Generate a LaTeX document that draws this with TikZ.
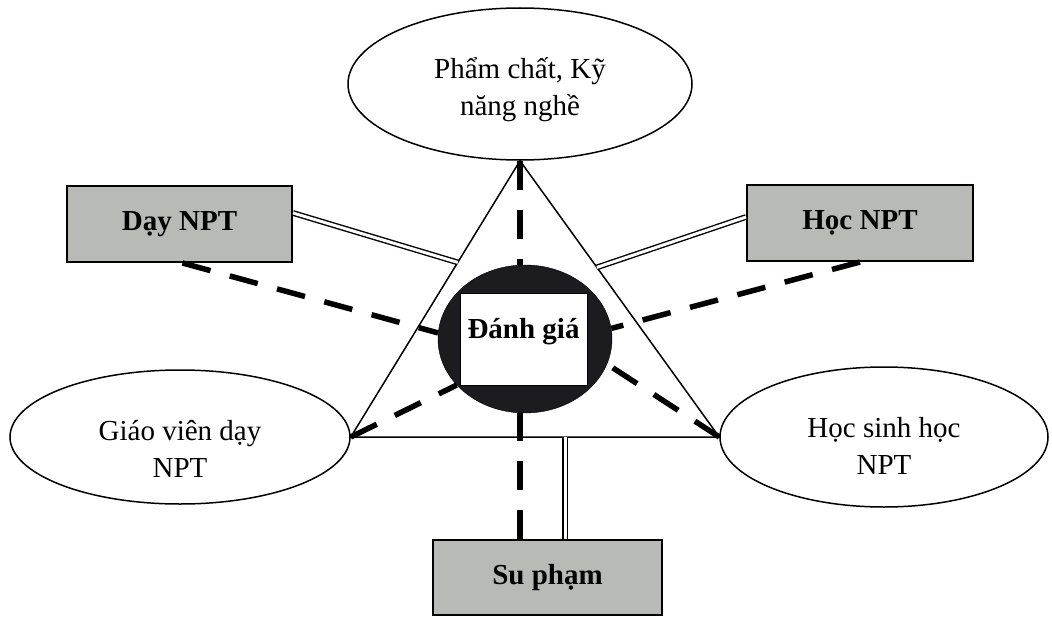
\documentclass[tikz,border=0pt]{standalone}
\usepackage{fontspec}
\setmainfont{Liberation Serif}
\usetikzlibrary{shapes.geometric,calc}
\definecolor{boxgray}{RGB}{184,186,182}
\definecolor{darkfill}{RGB}{28,28,32}
\begin{document}
\begin{tikzpicture}[x=1pt,y=-1pt,
  txt/.style={font=\fontsize{29}{37}\selectfont, align=center},
  oval/.style={ellipse, draw, line width=1.5pt, inner sep=0pt},
  gbox/.style={rectangle, draw, line width=2pt, fill=boxgray, inner sep=0pt, txt, font=\fontsize{29}{37}\selectfont\bfseries},
  thin/.style={line width=1.5pt},
  dashline/.style={line width=5.5pt, dash pattern=on 29pt off 20pt},
  dbl/.style={double, line width=1.4pt, double distance=3pt}
]
\useasboundingbox (0,0) rectangle (1052,618);

% ovals
\node[oval, minimum width=344, minimum height=152,
  label={[txt, yshift=-6pt]center:Phẩm chất, Kỹ\\năng nghề}] (top) at (520,84) {};
\node[oval, minimum width=340, minimum height=134,
  label={[txt, yshift=-12pt]center:Giáo viên dạy\\NPT}] (gv) at (180,437) {};
\node[oval, minimum width=328, minimum height=140,
  label={[txt, yshift=-9pt]center:Học sinh học\\NPT}] (hs) at (884,437) {};

% boxes
\node[gbox, minimum width=225, minimum height=76] (day) at (179.5,224) {Dạy NPT};
\node[gbox, minimum width=226, minimum height=76] (hoc) at (860,223) {Học NPT};
\node[gbox, minimum width=229, minimum height=75] (sp) at (547.5,577.5) {Su phạm};

% triangle
\draw[thin] (top.south) -- (gv.east) -- (hs.west) -- cycle;

% center
\node[ellipse, draw, fill=darkfill, minimum width=174, minimum height=148, inner sep=0pt] (circ) at (525,339) {};
\node[rectangle, draw, fill=white, line width=1pt, minimum width=127, minimum height=92, inner sep=0pt] (rect) at (523.5,339) {};
\node[font=\fontsize{29}{37}\selectfont\bfseries] (dg) at (523.5,332) {Đánh giá};

% coordinates on triangle sides
\coordinate (lside) at ($(top.south)!0.368!(gv.east)$);
\coordinate (rside) at ($(top.south)!0.386!(hs.west)$);
\coordinate (spd) at ([xshift=17.5pt]sp.north);

% double lines
\draw[dbl] ([yshift=11pt]day.east) -- (lside);
\draw[dbl] ([yshift=6pt]hoc.west) -- (rside);
\draw[dbl] (spd) -- (spd |- gv.east);

% dashed lines
\draw[dashline] (top.south) -- (top.south |- circ.north);
\draw[dashline] (top.south |- sp.north) -- (top.south |- circ.south);
\draw[dashline] ([xshift=3pt]day.south) -- (circ.176);
\draw[dashline] (hoc.south) -- (circ.7);
\draw[dashline] (gv.east) -- (circ.214);
\draw[dashline] (hs.west) -- (circ.-17);
\end{tikzpicture}
\end{document}
